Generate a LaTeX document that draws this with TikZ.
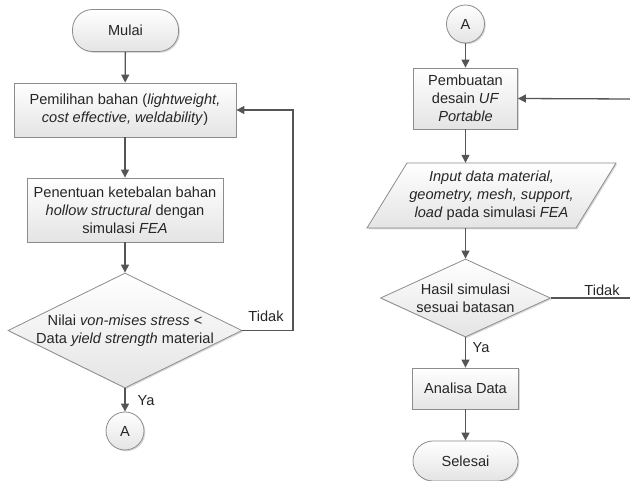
\documentclass[tikz,border=0pt]{standalone}
\usepackage{fontspec}
\setmainfont{Liberation Sans}
\usetikzlibrary{shapes.geometric,shadows,arrows.meta}
\definecolor{edgec}{HTML}{8C8C8C}
\definecolor{arrc}{HTML}{555555}
\definecolor{txtc}{HTML}{262626}
\definecolor{botc}{HTML}{E4E4E4}
\tikzset{
  fillst/.style={draw=edgec, line width=0.8pt, top color=white, bottom color=botc,
    drop shadow={shadow xshift=1.3pt, shadow yshift=-1.3pt, opacity=0.3, fill=gray}},
  base/.style={fillst, text=txtc, align=center, inner sep=0pt, font=\fontsize{14.6}{18}\selectfont},
  procbox/.style={base, rectangle},
  termbox/.style={base, rectangle, rounded corners=20pt},
  connbox/.style={base, circle, minimum size=38pt},
  decbox/.style={base, diamond},
  txt/.style={text=txtc, align=center, inner sep=0pt, font=\fontsize{14.6}{18}\selectfont},
  arr/.style={draw=arrc, line width=1.3pt, -{Triangle[length=8pt,width=8pt]}},
  ln/.style={draw=arrc, line width=1.3pt},
}
\begin{document}
\begin{tikzpicture}[x=1pt,y=-1pt]
\useasboundingbox (0,0) rectangle (630,481);
% left column
\node[termbox, minimum width=106pt, minimum height=42pt] (m) at (125.5,30.5) {Mulai};
\node[procbox, minimum width=222pt, minimum height=54pt] (b1) at (125,110) {Pemilihan bahan (\textit{lightweight,}\\\textit{cost effective, weldability})};
\node[procbox, minimum width=196pt, minimum height=64pt] (b2) at (125,210) {Penentuan ketebalan bahan\\\textit{hollow structural} dengan\\simulasi \textit{FEA}};
\node[decbox, minimum width=234pt, minimum height=115pt,
  label={[txt]center:Nilai \textit{von-mises stress} <\\Data \textit{yield strength} material}] (d1) at (125,330.5) {};
\node[connbox] (c1) at (125,431) {A};
\coordinate (k1) at (293,330.5);
\node[txt] (t1) at (266,316) {Tidak};
\node[txt] (y1) at (146,401) {Ya};
\draw[arr] (m) -- (b1);
\draw[arr] (b1) -- (b2);
\draw[arr] (b2) -- (d1);
\draw[arr] (d1) -- (c1);
\draw[arr] (d1.east) -- (k1) |- (b1.east);
% right column
\node[connbox] (c2) at (465.5,24) {A};
\node[procbox, minimum width=104pt, minimum height=61pt] (b3) at (465.5,98.5) {Pembuatan\\desain \textit{UF}\\\textit{Portable}};
\path[fillst] (407,163) -- (616,163) -- (576,228) -- (367,228) -- cycle;
\node[txt, minimum width=209pt, minimum height=65pt] (io) at (491.5,195.5) {\textit{Input data material,}\\\textit{geometry, mesh, support,}\\\textit{load} pada simulasi \textit{FEA}};
\node[decbox, minimum width=170pt, minimum height=78pt,
  label={[txt]center:Hasil simulasi\\sesuai batasan}] (d2) at (465.5,298) {};
\node[procbox, minimum width=106pt, minimum height=41pt] (b4) at (465.5,388.5) {Analisa Data};
\node[termbox, minimum width=105pt, minimum height=40pt] (s) at (465.5,461) {Selesai};
\node[txt] (t2) at (602,290) {Tidak};
\node[txt] (y2) at (481,348) {Ya};
\coordinate (k2) at (631,298);
\coordinate (k3) at (631,99);
\draw[arr] (c2) -- (b3);
\draw[arr] (b3.south) -- (b3.south |- io.north);
\draw[arr] (io.south -| d2.north) -- (d2.north);
\draw[arr] (d2) -- (b4);
\draw[arr] (b4) -- (s);
\draw[ln] (d2.east) -- (k2);
\draw[arr] (k3) -- (b3.east);
\end{tikzpicture}
\end{document}
